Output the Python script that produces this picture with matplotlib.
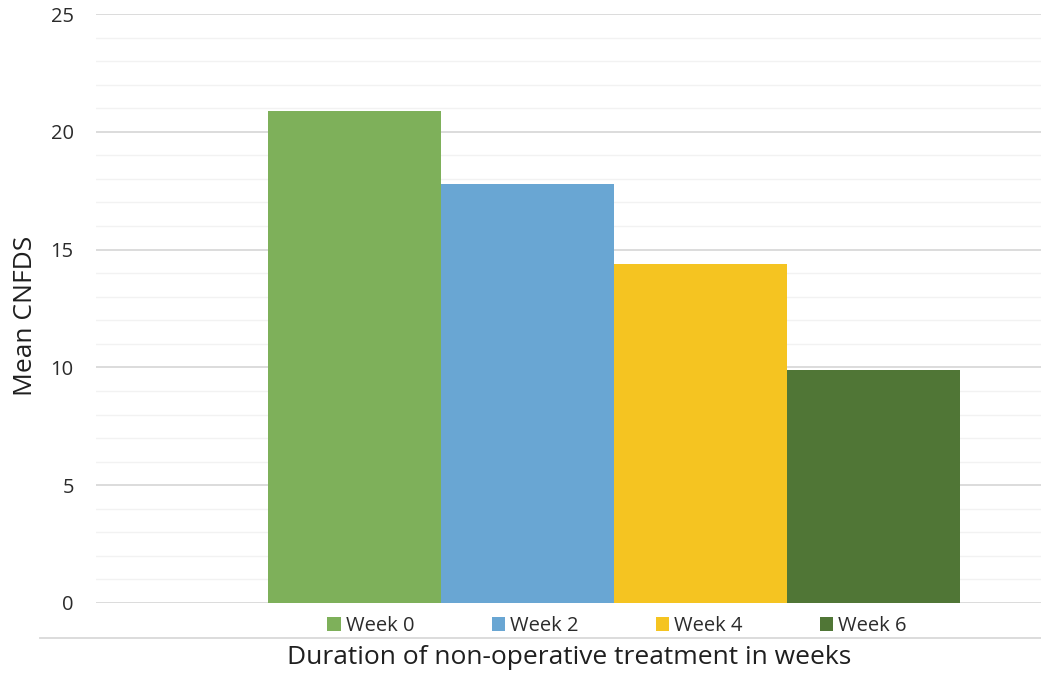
import matplotlib
matplotlib.use("Agg")
import matplotlib.pyplot as plt
from matplotlib.patches import Patch
from matplotlib.lines import Line2D

# Mean CNFDS by week of non-operative treatment
weeks = ["Week 0", "Week 2", "Week 4", "Week 6"]
mean_cnfds = [20.9, 17.8, 14.4, 9.9]
colors = ["#7EB05A", "#69A6D3", "#F5C421", "#507636"]
y_ticks = [0, 5, 10, 15, 20, 25]

plt.rcParams["font.family"] = ["Open Sans", "DejaVu Sans"]

W, H = 1041, 673
fig = plt.figure(figsize=(W / 100, H / 100), dpi=100)
ax = fig.add_axes([96 / W, 1 - 603 / H, 1 - 96 / W, (603 - 14) / H])

# minor and major horizontal gridlines
for v in range(0, 26):
    if v % 5 == 0:
        ax.axhline(v, color="#d9d9d9", lw=1.3, zorder=0)
    else:
        ax.axhline(v, color="#f2f2f2", lw=1.0, zorder=0)

xs = list(range(len(weeks)))
ax.bar(xs, mean_cnfds, width=1.0, color=colors, zorder=2,
       edgecolor="none")

ax.set_xlim(-1.494, 3.968)
ax.set_ylim(0, 25)
ax.set_yticks(y_ticks)
ax.set_yticklabels([str(t) for t in y_ticks], fontsize=14.5, color="#2b2b2b")
ax.tick_params(axis="y", length=0, pad=16)
ax.set_xticks([])
for s in ax.spines.values():
    s.set_visible(False)

ax.set_ylabel("Mean CNFDS", fontsize=19, color="#1f1f1f")
ax.yaxis.set_label_coords(-(96 - 38) / (W - 96), 0.487)

# separator line between legend and axis title
fig.add_artist(Line2D([40 / W, 1.0], [1 - 638 / H, 1 - 638 / H],
                      color="#d9d9d9", lw=1.3))

handles = [Patch(facecolor=c, edgecolor="none") for c in colors]
fig.legend(handles, weeks, loc="center", bbox_to_anchor=(617 / W, 1 - 626 / H),
           ncol=4, frameon=False, fontsize=14.5, handlelength=0.65,
           handleheight=0.65, handletextpad=0.25, columnspacing=3.85,
           labelcolor="#2b2b2b")

fig.text(569 / W, 1 - 657 / H, "Duration of non-operative treatment in weeks",
         ha="center", va="center", fontsize=19, color="#1f1f1f")

fig.savefig("out.png", dpi=100, facecolor="white")
